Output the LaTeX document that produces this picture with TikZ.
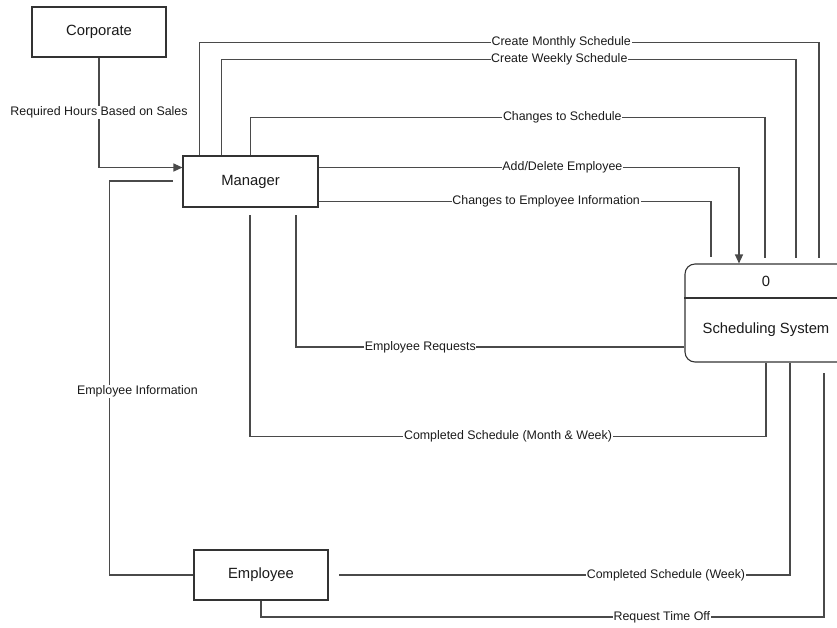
\documentclass[tikz,border=0pt]{standalone}
\usepackage{fontspec}
\setmainfont{Liberation Sans}
\usetikzlibrary{arrows.meta,calc}
\definecolor{linec}{HTML}{4A4A4A}
\definecolor{boxc}{HTML}{333333}
\definecolor{txtc}{HTML}{1A1A1A}
\tikzset{
  entity/.style={draw=boxc, line width=1.1pt, minimum width=134pt, minimum height=50pt, inner sep=0pt, text=txtc, font=\fontsize{14.8}{17}\selectfont},
  procbox/.style={draw=boxc, line width=1.1pt, rounded corners=10pt, minimum width=162pt, minimum height=98pt, inner sep=0pt},
  flow/.style={draw=linec, line width=1.2pt},
  tip/.style={-{Triangle[length=9pt,width=8pt]}},
  lbl/.style={fill=white, inner sep=0.6pt, text=txtc, font=\fontsize{12.4}{14}\selectfont},
  ptext/.style={text=txtc, font=\fontsize{14.8}{17}\selectfont, inner sep=0pt}
}
\begin{document}
\begin{tikzpicture}[x=1pt,y=-1pt]
\useasboundingbox[fill=white] (0,0) rectangle (837,627);

\node[entity] (corp) at (99,32) {Corporate};
\node[entity, minimum width=135pt, minimum height=51pt] (mgr) at (250.5,181.5) {Manager};
\node[entity] (emp) at (261,575) {Employee};
\node[procbox] (proc) at (766,313) {};
\draw[draw=boxc, line width=1.1pt] (proc.west |- 0,298) coordinate (dl) -- (proc.east |- 0,298) coordinate (dr);
\node[ptext] (pnum) at (766,281.5) {0};
\node[ptext] (pname) at (766,329.5) {Scheduling System};

% free ends
\coordinate (eMon) at (819,258);
\coordinate (eWk) at (796,258);
\coordinate (eChg) at (765,258);
\coordinate (eInfo) at (711,257);
\coordinate (eReq) at (296,215);
\coordinate (eComp) at (250,215);
\coordinate (eEmpInfo) at (173,181);
\coordinate (eWeek) at (339,575);
\coordinate (sOff) at (824,373);

% Corporate -> Manager
\draw[flow,tip] (corp.south) |- ([yshift=14pt]mgr.west)
  node[lbl,pos=0.25] {Required Hours Based on Sales};

% Manager -> Scheduling System
\draw[flow] ([xshift=17pt]mgr.north west) -- ++(0,-113) -| (eMon)
  node[lbl,pos=0.292] {Create Monthly Schedule};
\draw[flow] ([xshift=39pt]mgr.north west) -- ++(0,-96) -| (eWk)
  node[lbl,pos=0.294] {Create Weekly Schedule};
\draw[flow] (mgr.north) -- ++(0,-38) -| (eChg)
  node[lbl,pos=0.303] {Changes to Schedule};
\draw[flow,tip] ([yshift=14pt]mgr.east) -| ([xshift=-27pt]proc.north)
  node[lbl,pos=0.29] {Add/Delete Employee};
\draw[flow] ([yshift=-20pt]mgr.east) -| (eInfo)
  node[lbl,pos=0.29] {Changes to Employee Information};

% Scheduling System -> Manager
\draw[flow] ([yshift=-34pt]proc.west) -| (eReq)
  node[lbl,pos=0.34] {Employee Requests};
\draw[flow] (proc.south) -- ++(0,74) -| (eComp)
  node[lbl,pos=0.25] {Completed Schedule (Month \& Week)};

% Employee -> Manager
\draw[flow] (emp.west) -- ++(-84,0) |- (eEmpInfo)
  node[lbl,pos=0.233,xshift=28pt] {Employee Information};

% Scheduling System -> Employee
\draw[flow] ([xshift=24pt]proc.south) |- (eWeek)
  node[lbl,pos=0.6375] {Completed Schedule (Week)};

% Employee -> Scheduling System
\draw[flow] (sOff) -- ++(0,244) -| (emp.south)
  node[lbl,pos=0.144] {Request Time Off};
\end{tikzpicture}
\end{document}
